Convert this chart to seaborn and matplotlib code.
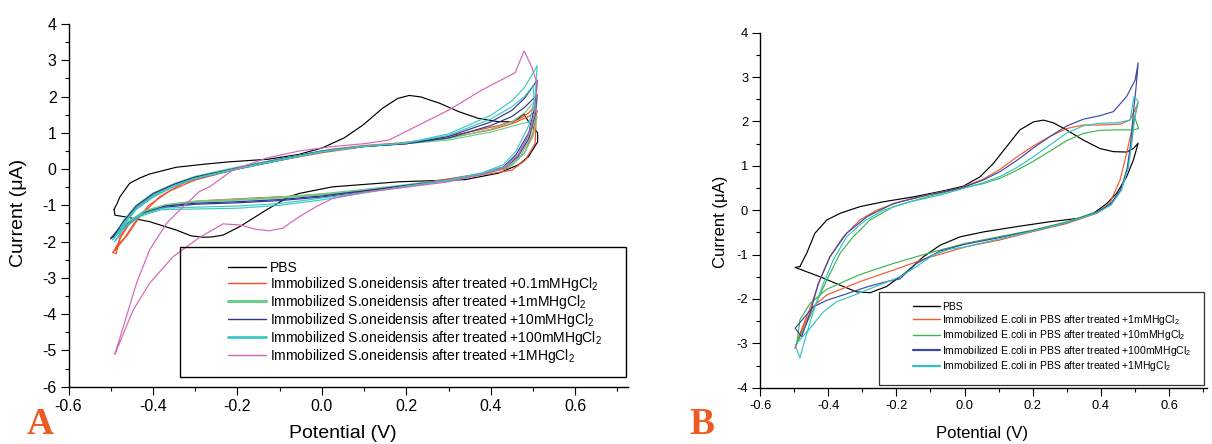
import matplotlib
matplotlib.use("Agg")
import numpy as np
import pandas as pd
import seaborn as sns
import matplotlib.pyplot as plt
from matplotlib.lines import Line2D
from matplotlib.patches import Rectangle
from matplotlib.ticker import FixedLocator, MultipleLocator

# ---------------- Panel A data (potential V, current uA) ----------------
A_PBS_V = [-0.492, -0.485, -0.478, -0.465, -0.455, -0.43, -0.408, -0.345, -0.274, -0.219, -0.128, -0.056, 0.0, 0.053, 0.098, 0.144, 0.18, 0.207, 0.234, 0.28, 0.325, 0.37, 0.416, 0.452, 0.468, 0.478, 0.49, 0.511, 0.511, 0.497, 0.489, 0.466, 0.419, 0.34, 0.183, 0.025, -0.053, -0.077, -0.132, -0.195, -0.234, -0.26, -0.282, -0.31, -0.345, -0.408, -0.46, -0.49]
A_PBS_I = [-1.11, -0.95, -0.76, -0.55, -0.39, -0.24, -0.136, 0.05, 0.14, 0.2, 0.27, 0.4, 0.58, 0.86, 1.22, 1.68, 1.95, 2.03, 1.99, 1.81, 1.58, 1.40, 1.31, 1.30, 1.42, 1.52, 1.30, 1.0, 0.75, 0.49, 0.34, 0.12, -0.11, -0.29, -0.35, -0.49, -0.67, -0.76, -1.13, -1.59, -1.82, -1.87, -1.88, -1.84, -1.68, -1.45, -1.33, -1.27]

A_RED_V = [-0.495, -0.485, -0.463, -0.431, -0.384, -0.329, -0.25, -0.132, -0.05, 0.025, 0.1, 0.183, 0.26, 0.34, 0.419, 0.466, 0.49, 0.505, 0.507, 0.505, 0.482, 0.45, 0.403, 0.261, 0.104, -0.053, -0.2, -0.29, -0.368, -0.423, -0.455, -0.478, -0.487]
A_RED_I = [-2.3, -2.1, -1.86, -1.31, -0.76, -0.39, -0.12, 0.2, 0.38, 0.55, 0.65, 0.72, 0.82, 1.0, 1.2, 1.37, 1.55, 1.76, 1.2, 0.71, 0.25, -0.03, -0.12, -0.35, -0.6, -0.74, -0.82, -0.88, -0.99, -1.17, -1.45, -1.86, -2.33]
A_RED2_V = [-0.487, -0.47, -0.445, -0.41, -0.36, -0.3, -0.2, -0.1, 0.0, 0.1, 0.2, 0.3, 0.4, 0.45, 0.49, 0.51, 0.5, 0.48, 0.44, 0.38, 0.25, 0.1, -0.05, -0.2, -0.3, -0.37, -0.42, -0.455, -0.475, -0.49]
A_RED2_I = [-2.2, -1.95, -1.5, -1.0, -0.6, -0.3, 0.0, 0.24, 0.45, 0.62, 0.71, 0.86, 1.08, 1.25, 1.45, 1.62, 1.0, 0.45, 0.02, -0.12, -0.36, -0.6, -0.74, -0.84, -0.9, -1.0, -1.2, -1.5, -1.85, -2.25]

A_GRN1_V = [-0.5, -0.485, -0.47, -0.44, -0.4, -0.35, -0.3, -0.2, -0.1, 0.0, 0.1, 0.2, 0.3, 0.4, 0.45, 0.48, 0.51, 0.505, 0.49, 0.47, 0.44, 0.4, 0.3, 0.2, 0.1, 0.0, -0.1, -0.2, -0.3, -0.37, -0.42, -0.46, -0.49]
A_GRN1_I = [-1.9, -1.7, -1.45, -1.05, -0.7, -0.42, -0.22, 0.04, 0.27, 0.5, 0.63, 0.7, 0.84, 1.1, 1.3, 1.55, 1.95, 1.4, 0.8, 0.35, 0.05, -0.08, -0.3, -0.43, -0.56, -0.68, -0.77, -0.83, -0.88, -0.98, -1.15, -1.45, -1.8]
A_GRN2_V = [-0.49, -0.47, -0.44, -0.4, -0.35, -0.3, -0.2, -0.1, 0.0, 0.1, 0.2, 0.3, 0.4, 0.45, 0.49, 0.51, 0.5, 0.48, 0.45, 0.4, 0.3, 0.2, 0.1, 0.0, -0.1, -0.2, -0.3, -0.37, -0.42, -0.46]
A_GRN2_I = [-1.85, -1.42, -1.0, -0.66, -0.4, -0.2, 0.06, 0.28, 0.5, 0.63, 0.7, 0.8, 1.02, 1.18, 1.3, 1.45, 0.9, 0.45, 0.1, -0.1, -0.32, -0.45, -0.58, -0.7, -0.8, -0.86, -0.9, -0.99, -1.17, -1.48]

A_BLU1_V = [-0.5, -0.485, -0.47, -0.44, -0.4, -0.35, -0.3, -0.2, -0.1, 0.0, 0.1, 0.2, 0.3, 0.4, 0.45, 0.48, 0.51, 0.505, 0.49, 0.46, 0.43, 0.38, 0.3, 0.2, 0.1, 0.0, -0.1, -0.2, -0.3, -0.37, -0.42, -0.46, -0.49]
A_BLU1_I = [-1.92, -1.7, -1.45, -1.02, -0.68, -0.42, -0.22, 0.03, 0.27, 0.5, 0.63, 0.7, 0.9, 1.3, 1.62, 1.95, 2.45, 1.75, 1.0, 0.4, 0.06, -0.12, -0.3, -0.45, -0.6, -0.74, -0.84, -0.9, -0.94, -1.02, -1.2, -1.5, -1.82]
A_BLU2_V = [-0.495, -0.47, -0.44, -0.4, -0.35, -0.3, -0.2, -0.1, 0.0, 0.1, 0.2, 0.3, 0.4, 0.45, 0.48, 0.51, 0.505, 0.49, 0.465, 0.435, 0.38, 0.3, 0.2, 0.1, 0.0, -0.1, -0.2, -0.3, -0.37, -0.42, -0.46]
A_BLU2_I = [-1.88, -1.5, -1.08, -0.74, -0.47, -0.26, 0.0, 0.24, 0.48, 0.62, 0.7, 0.86, 1.2, 1.45, 1.7, 2.05, 1.5, 0.85, 0.35, 0.05, -0.13, -0.32, -0.47, -0.63, -0.77, -0.87, -0.93, -0.97, -1.05, -1.22, -1.53]

A_CYN1_V = [-0.49, -0.48, -0.47, -0.44, -0.4, -0.35, -0.3, -0.2, -0.1, 0.0, 0.1, 0.2, 0.3, 0.4, 0.45, 0.48, 0.51, 0.505, 0.49, 0.46, 0.43, 0.38, 0.3, 0.2, 0.1, 0.0, -0.1, -0.2, -0.3, -0.38, -0.43, -0.47]
A_CYN1_I = [-2.0, -1.82, -1.55, -1.12, -0.78, -0.48, -0.27, 0.0, 0.24, 0.47, 0.63, 0.72, 0.97, 1.48, 1.88, 2.25, 2.85, 2.0, 1.2, 0.5, 0.12, -0.1, -0.3, -0.47, -0.66, -0.85, -1.0, -1.08, -1.1, -1.12, -1.3, -1.65]
A_CYN2_V = [-0.495, -0.47, -0.44, -0.4, -0.35, -0.3, -0.2, -0.1, 0.0, 0.1, 0.2, 0.3, 0.4, 0.45, 0.48, 0.5, 0.505, 0.49, 0.465, 0.435, 0.38, 0.3, 0.2, 0.1, 0.0, -0.1, -0.2, -0.3, -0.38, -0.43, -0.47]
A_CYN2_I = [-1.95, -1.5, -1.08, -0.74, -0.46, -0.25, 0.02, 0.26, 0.49, 0.63, 0.72, 0.93, 1.38, 1.72, 2.0, 2.3, 1.6, 0.95, 0.4, 0.08, -0.12, -0.32, -0.48, -0.64, -0.8, -0.95, -1.02, -1.05, -1.08, -1.26, -1.6]

A_MAG_V = [-0.49, -0.463, -0.439, -0.408, -0.368, -0.329, -0.29, -0.266, -0.211, -0.132, -0.053, 0.025, 0.1, 0.159, 0.222, 0.301, 0.379, 0.458, 0.468, 0.479, 0.497, 0.51, 0.505, 0.49, 0.465, 0.435, 0.38, 0.3, 0.2, 0.1, 0.025, -0.014, -0.053, -0.093, -0.124, -0.156, -0.195, -0.234, -0.289, -0.353, -0.408, -0.447]
A_MAG_I = [-5.1, -4.07, -3.15, -2.23, -1.5, -1.04, -0.62, -0.49, -0.03, 0.3, 0.5, 0.62, 0.7, 0.8, 1.17, 1.63, 2.18, 2.66, 2.95, 3.26, 2.82, 2.35, 1.6, 0.95, 0.4, 0.05, -0.15, -0.35, -0.5, -0.64, -0.81, -1.04, -1.31, -1.63, -1.70, -1.66, -1.54, -1.51, -1.88, -2.42, -3.15, -3.89]

A_LABELS = ["PBS",
            "Immobilized S.oneidensis after treated +0.1mMHgCl$_2$",
            "Immobilized S.oneidensis after treated +1mMHgCl$_2$",
            "Immobilized S.oneidensis after treated +10mMHgCl$_2$",
            "Immobilized S.oneidensis after treated +100mMHgCl$_2$",
            "Immobilized S.oneidensis after treated +1MHgCl$_2$"]

# ---------------- Panel B data ----------------
B_PBS_V = [-0.483, -0.473, -0.463, -0.439, -0.404, -0.365, -0.307, -0.238, -0.15, -0.072, -0.004, 0.045, 0.084, 0.123, 0.162, 0.202, 0.231, 0.26, 0.299, 0.348, 0.397, 0.436, 0.475, 0.495, 0.509, 0.495, 0.475, 0.446, 0.417, 0.378, 0.338, 0.25, 0.153, 0.055, -0.013, -0.072, -0.121, -0.17, -0.229, -0.277, -0.317, -0.365, -0.424, -0.483, -0.497]
B_PBS_I = [-1.27, -1.12, -0.97, -0.52, -0.22, -0.07, 0.08, 0.19, 0.3, 0.42, 0.54, 0.75, 1.05, 1.43, 1.81, 1.99, 2.03, 1.97, 1.81, 1.58, 1.39, 1.32, 1.31, 1.39, 1.51, 1.13, 0.75, 0.38, 0.15, -0.07, -0.18, -0.26, -0.37, -0.49, -0.6, -0.79, -1.05, -1.39, -1.72, -1.86, -1.84, -1.69, -1.5, -1.33, -1.29]

B_RED_V = [-0.497, -0.483, -0.453, -0.424, -0.395, -0.356, -0.307, -0.258, -0.19, -0.111, -0.013, 0.055, 0.104, 0.153, 0.202, 0.25, 0.299, 0.348, 0.397, 0.456, 0.485, 0.509, 0.495, 0.475, 0.456, 0.426, 0.387, 0.3, 0.201, 0.104, 0.006, -0.111, -0.209, -0.307, -0.404, -0.444, -0.473]
B_RED_I = [-3.11, -2.78, -2.2, -1.57, -1.05, -0.6, -0.22, 0.0, 0.19, 0.34, 0.5, 0.7, 0.92, 1.2, 1.45, 1.66, 1.84, 1.92, 1.92, 1.94, 2.03, 2.42, 1.96, 1.28, 0.68, 0.16, -0.07, -0.3, -0.48, -0.67, -0.82, -1.08, -1.35, -1.61, -1.91, -2.17, -2.63]

B_GRN_V = [-0.492, -0.483, -0.444, -0.404, -0.365, -0.327, -0.277, -0.209, -0.111, -0.013, 0.055, 0.104, 0.153, 0.201, 0.25, 0.3, 0.348, 0.397, 0.446, 0.495, 0.51, 0.498, 0.49, 0.48, 0.46, 0.43, 0.39, 0.3, 0.2, 0.1, 0.0, -0.111, -0.209, -0.307, -0.404, -0.453, -0.483]
B_GRN_I = [-3.0, -2.85, -2.25, -1.57, -0.97, -0.6, -0.22, 0.08, 0.3, 0.49, 0.6, 0.72, 0.9, 1.1, 1.33, 1.57, 1.73, 1.8, 1.81, 1.81, 1.84, 2.12, 1.55, 1.0, 0.48, 0.15, -0.03, -0.26, -0.45, -0.6, -0.75, -0.98, -1.2, -1.45, -1.78, -2.1, -2.47]

B_BLU_V = [-0.478, -0.453, -0.429, -0.395, -0.346, -0.287, -0.209, -0.111, -0.013, 0.055, 0.104, 0.153, 0.201, 0.25, 0.3, 0.348, 0.397, 0.436, 0.475, 0.5, 0.509, 0.502, 0.495, 0.487, 0.477, 0.458, 0.428, 0.388, 0.3, 0.2, 0.1, 0.0, -0.072, -0.141, -0.19, -0.229, -0.287, -0.356, -0.404, -0.444, -0.497]
B_BLU_I = [-2.85, -2.32, -1.65, -1.05, -0.52, -0.15, 0.15, 0.34, 0.49, 0.68, 0.87, 1.12, 1.4, 1.66, 1.9, 2.05, 2.13, 2.22, 2.56, 2.93, 3.32, 2.7, 2.2, 1.5, 0.95, 0.46, 0.14, -0.05, -0.28, -0.46, -0.62, -0.77, -0.92, -1.2, -1.55, -1.61, -1.73, -1.91, -2.03, -2.18, -2.66]

B_CYN_V = [-0.483, -0.463, -0.439, -0.414, -0.385, -0.346, -0.297, -0.238, -0.16, -0.072, -0.004, 0.055, 0.104, 0.153, 0.201, 0.25, 0.3, 0.348, 0.397, 0.446, 0.485, 0.497, 0.509, 0.5, 0.49, 0.48, 0.46, 0.43, 0.39, 0.3, 0.2, 0.1, 0.0, -0.043, -0.092, -0.141, -0.19, -0.238, -0.287, -0.336, -0.375, -0.414, -0.453, -0.497]
B_CYN_I = [-3.32, -2.78, -2.18, -1.65, -1.12, -0.6, -0.26, 0.0, 0.19, 0.34, 0.49, 0.62, 0.76, 0.96, 1.2, 1.47, 1.74, 1.9, 1.96, 1.97, 2.03, 2.56, 2.46, 2.15, 1.5, 0.95, 0.45, 0.12, -0.06, -0.28, -0.47, -0.65, -0.83, -0.88, -1.01, -1.27, -1.5, -1.65, -1.8, -1.95, -2.06, -2.29, -2.66, -3.04]

B_LABELS = ["PBS",
            "Immobilized E.coli in PBS after treated +1mMHgCl$_2$",
            "Immobilized E.coli in PBS after treated +10mMHgCl$_2$",
            "Immobilized E.coli in PBS after treated +100mMHgCl$_2$",
            "Immobilized E.coli in PBS after treated +1MHgCl$_2$"]

X_TICKS = [-0.6, -0.4, -0.2, 0.0, 0.2, 0.4, 0.6]
X_TICKLABELS = ["-0.6", "-0.4", "-0.2", "0.0", "0.2", "0.4", "0.6"]
A_Y_TICKS = [-6, -5, -4, -3, -2, -1, 0, 1, 2, 3, 4]
B_Y_TICKS = [-4, -3, -2, -1, 0, 1, 2, 3, 4]

A_COLORS = ["#000000", "#F04E23", "#6DCD8A", "#2D368E", "#3DC8C3", "#D565B9"]
B_COLORS = ["#000000", "#F25A2E", "#3DB54F", "#3C48A5", "#34C4C0"]

# ---------------- style ----------------
sns.set_theme(style="ticks")
plt.rcParams.update({
    "font.family": ["Liberation Sans", "DejaVu Sans"],
    "mathtext.fontset": "custom",
    "mathtext.rm": "Liberation Sans",
    "mathtext.it": "Liberation Sans:italic",
    "mathtext.bf": "Liberation Sans:bold",
    "axes.unicode_minus": False,
    "axes.edgecolor": "black",
    "axes.linewidth": 1.0,
    "xtick.color": "black",
    "ytick.color": "black",
    "text.color": "black",
    "axes.labelcolor": "black",
})


def build_frame(loops, labels):
    rows = []
    for idx, (lab_i, V, I) in enumerate(loops):
        Vc = list(V) + [V[0]]
        Ic = list(I) + [I[0]]
        for k, (v, i) in enumerate(zip(Vc, Ic)):
            rows.append({"V": v, "I": i, "series": labels[lab_i], "loop": idx, "k": k})
    return pd.DataFrame(rows)


A_loops = [(0, A_PBS_V, A_PBS_I), (1, A_RED_V, A_RED_I), (1, A_RED2_V, A_RED2_I),
           (2, A_GRN1_V, A_GRN1_I), (2, A_GRN2_V, A_GRN2_I),
           (3, A_BLU1_V, A_BLU1_I), (3, A_BLU2_V, A_BLU2_I),
           (4, A_CYN1_V, A_CYN1_I), (4, A_CYN2_V, A_CYN2_I),
           (5, A_MAG_V, A_MAG_I)]
B_loops = [(0, B_PBS_V, B_PBS_I), (1, B_RED_V, B_RED_I), (2, B_GRN_V, B_GRN_I),
           (3, B_BLU_V, B_BLU_I), (4, B_CYN_V, B_CYN_I)]

dfA = build_frame(A_loops, A_LABELS)
dfB = build_frame(B_loops, B_LABELS)

W, H = 1212, 444
fig = plt.figure(figsize=(W / 100, H / 100), dpi=100)
axA = fig.add_axes([68.5 / W, 1 - 386.7 / H, (628 - 68.5) / W, (386.7 - 24) / H])
axB = fig.add_axes([760 / W, 1 - 387.7 / H, 446.7 / W, 355 / H])

sns.lineplot(data=dfA, x="V", y="I", hue="series", units="loop", estimator=None,
             sort=False, hue_order=A_LABELS, palette=dict(zip(A_LABELS, A_COLORS)),
             linewidth=0.85, legend=False, ax=axA)
sns.lineplot(data=dfB, x="V", y="I", hue="series", units="loop", estimator=None,
             sort=False, hue_order=B_LABELS, palette=dict(zip(B_LABELS, B_COLORS)),
             linewidth=0.85, legend=False, ax=axB)


def style_axes(ax, xlim, ylim, yticks, tick_fs, label_fs, ylab_xy, xlab_xy):
    ax.set_xlim(*xlim)
    ax.set_ylim(*ylim)
    sns.despine(ax=ax)
    ax.xaxis.set_major_locator(FixedLocator(X_TICKS))
    ax.set_xticklabels(X_TICKLABELS)
    ax.xaxis.set_minor_locator(MultipleLocator(0.1))
    ax.yaxis.set_major_locator(FixedLocator(yticks))
    ax.set_yticklabels([str(t) for t in yticks])
    ax.yaxis.set_minor_locator(MultipleLocator(0.5))
    ax.tick_params(which="major", direction="out", length=5.5, width=0.8,
                   labelsize=tick_fs, pad=3)
    ax.tick_params(which="minor", direction="out", length=3, width=0.8)
    ax.set_xlabel("Potential (V)", fontsize=label_fs)
    ax.set_ylabel("Current (\u03bcA)", fontsize=label_fs)
    ax.yaxis.set_label_coords(*ylab_xy)
    ax.xaxis.set_label_coords(*xlab_xy)
    ax.xaxis.label.set_va("center")
    ax.yaxis.label.set_va("center")


style_axes(axA, (-0.6, 0.725), (-6, 4), A_Y_TICKS, 11.5, 14, (-0.090, 0.48), (0.49, -0.128))
style_axes(axB, (-0.6, 0.71), (-4, 4), B_Y_TICKS, 9.3, 12, (-0.088, 0.468), (0.496, -0.128))

# legends (frame drawn as a rectangle, entries placed inside)
A_LW = [1.0, 1.0, 2.2, 1.0, 2.0, 1.0]
hA = [Line2D([], [], color=c, lw=w) for c, w in zip(A_COLORS, A_LW)]
fig.add_artist(Rectangle((180 / W, 1 - 377.3 / H), (626 - 180) / W, 130 / H,
                         transform=fig.transFigure, fill=False, ec="black", lw=1.0))
fig.legend(hA, A_LABELS, loc="upper left", bbox_to_anchor=(228 / W, 1 - 261 / H),
           bbox_transform=fig.transFigure, frameon=False, fontsize=10,
           borderpad=0, borderaxespad=0, handlelength=2.7, handletextpad=0.3,
           labelspacing=0.0)

B_LW = [1.0, 1.0, 1.0, 1.6, 1.6]
hB = [Line2D([], [], color=c, lw=w) for c, w in zip(B_COLORS, B_LW)]
fig.add_artist(Rectangle((878.7 / W, 1 - 385 / H), (1204 - 878.7) / W, (385 - 292.3) / H,
                         transform=fig.transFigure, fill=False, ec="#333333", lw=0.9))
fig.legend(hB, B_LABELS, loc="upper left", bbox_to_anchor=(912.7 / W, 1 - 301.5 / H),
           bbox_transform=fig.transFigure, frameon=False, fontsize=7.5,
           borderpad=0, borderaxespad=0, handlelength=2.6, handletextpad=0.25,
           labelspacing=0.14)

# panel letters
fig.text(27 / W, 2 / H, "A", fontsize=27, fontweight="bold", color="#EE5A24",
         family=["Liberation Serif", "DejaVu Serif"], va="bottom", ha="left")
fig.text(689 / W, 2 / H, "B", fontsize=27, fontweight="bold", color="#EE5A24",
         family=["Liberation Serif", "DejaVu Serif"], va="bottom", ha="left")

fig.savefig("out.png", dpi=100)
